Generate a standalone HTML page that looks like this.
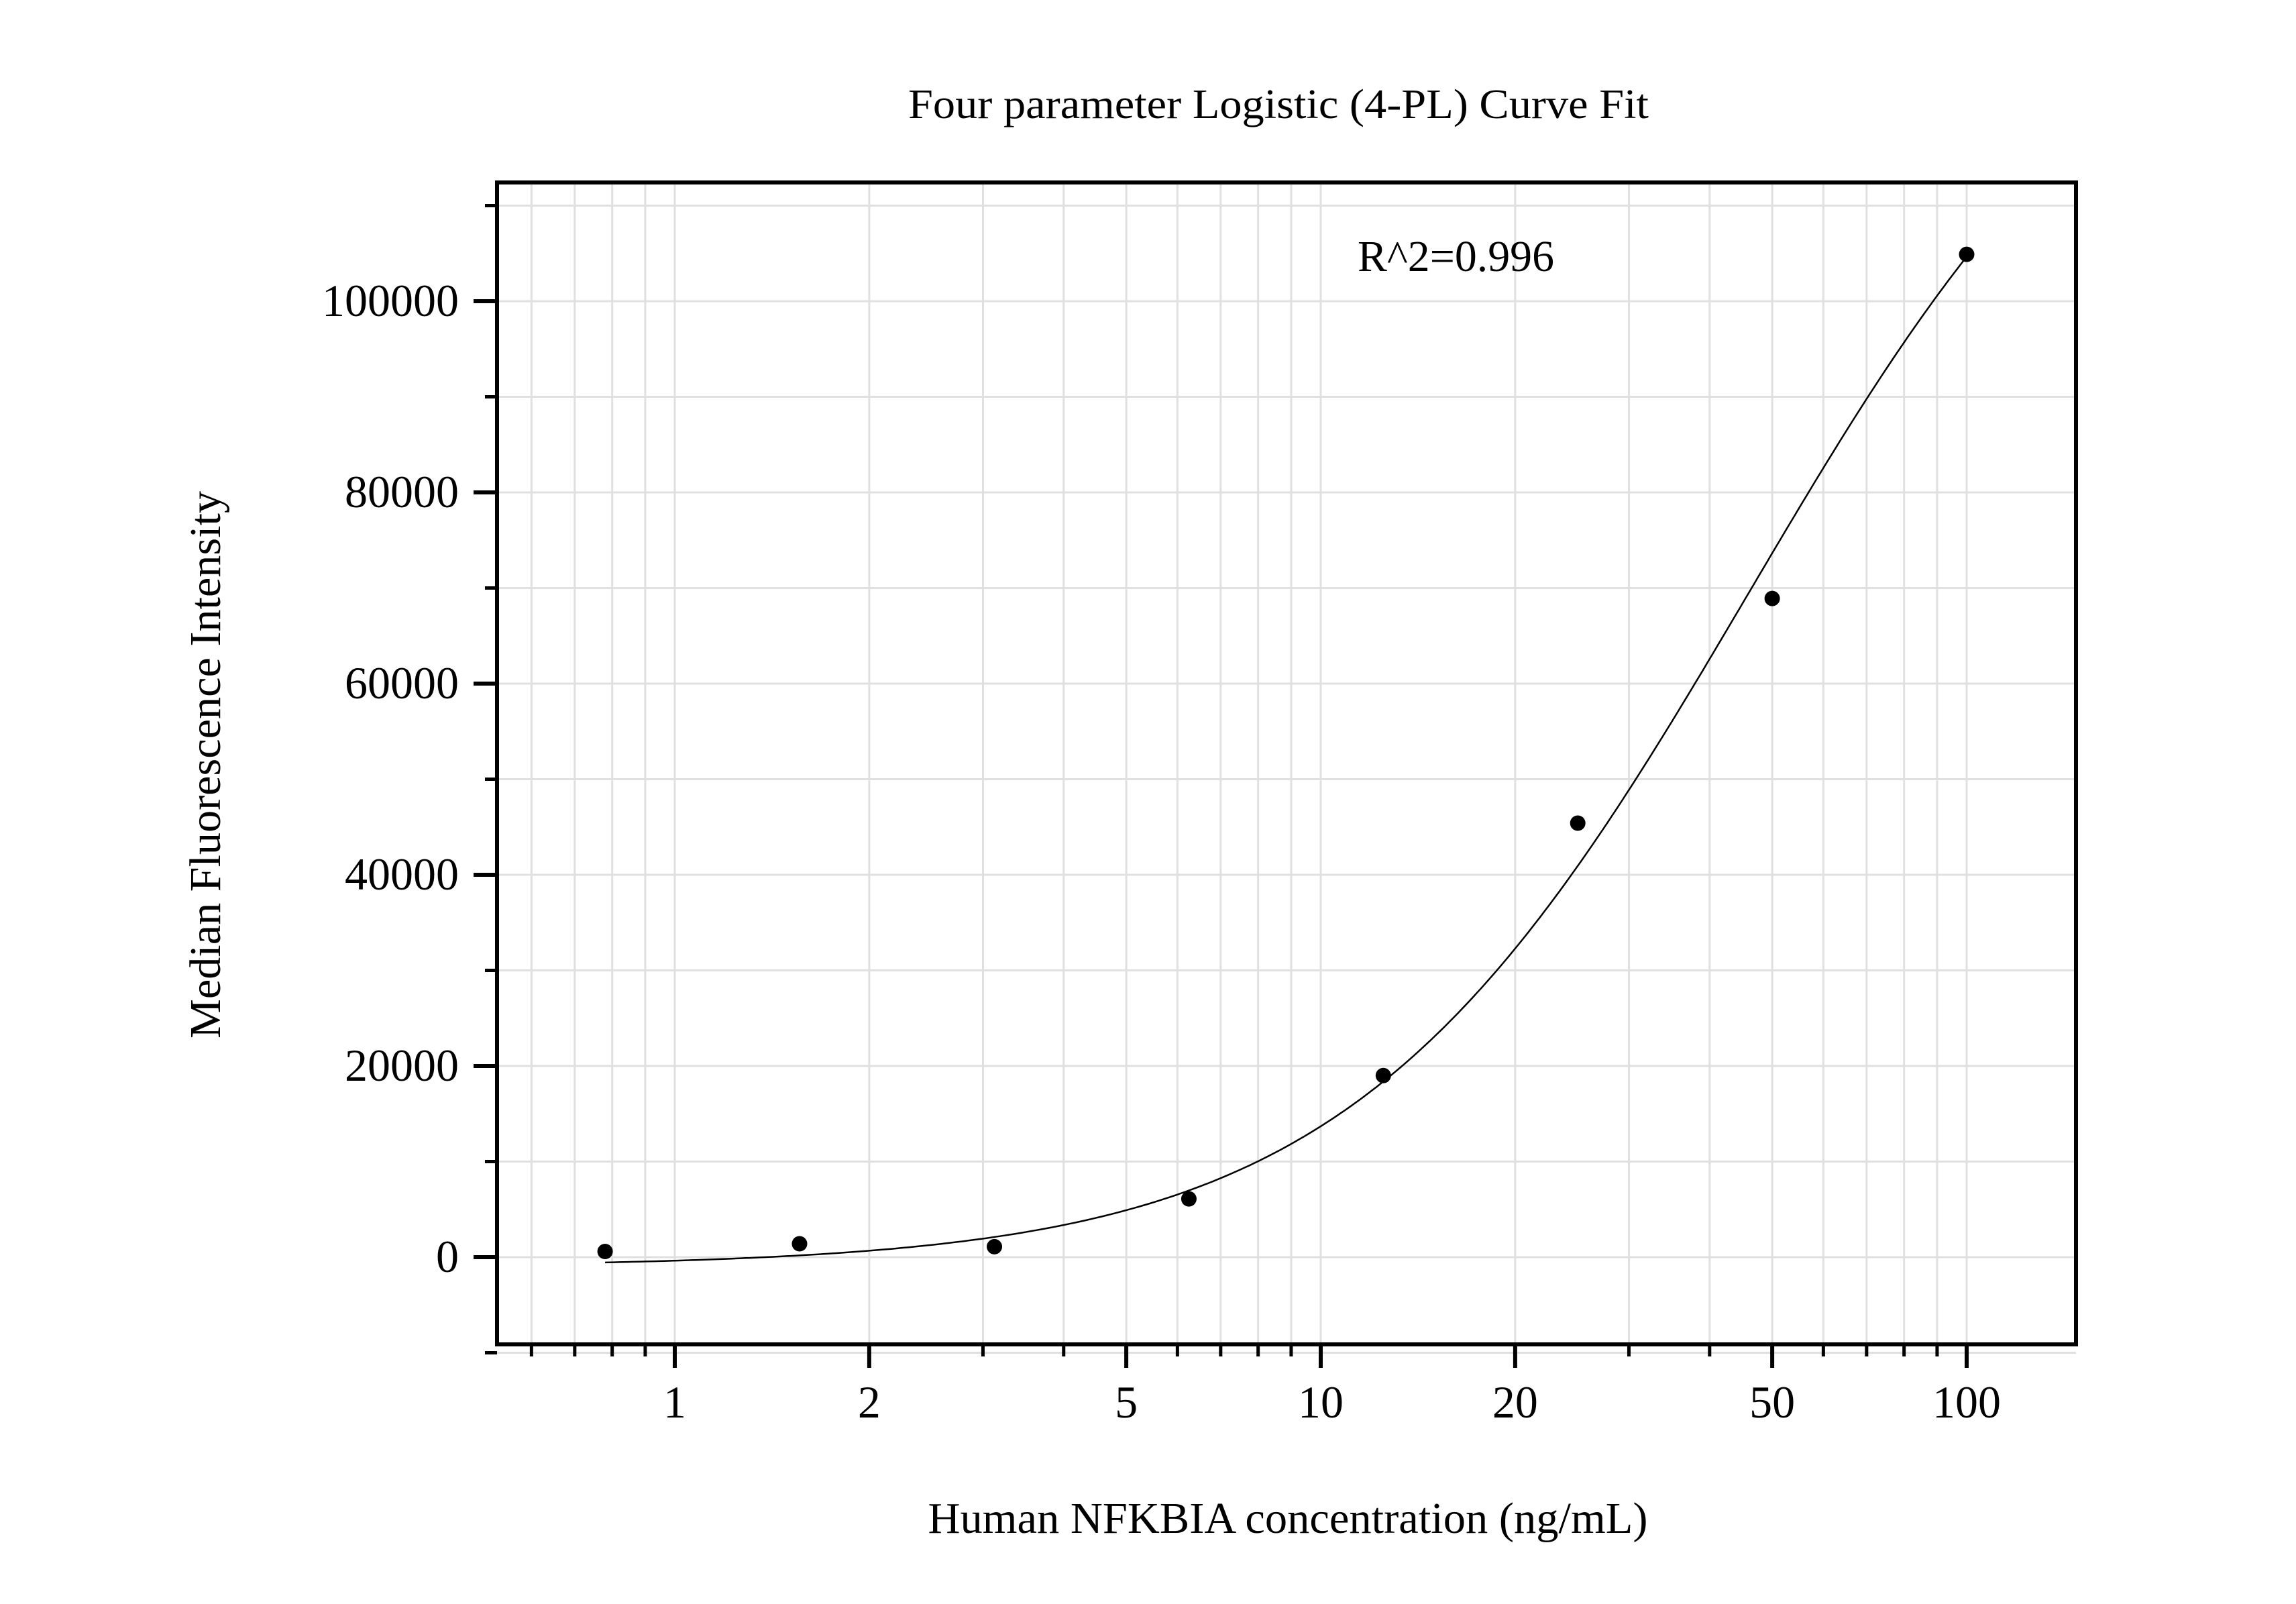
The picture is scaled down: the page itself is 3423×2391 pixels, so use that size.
<!DOCTYPE html>
<html><head><meta charset="utf-8"><style>
html,body{margin:0;padding:0;background:#fff;}
svg{display:block;font-family:"Liberation Serif","Times New Roman",serif;}
</style></head><body>
<svg id="chart" width="3423" height="2391" viewBox="0 0 3423 2391" xmlns="http://www.w3.org/2000/svg">
<rect x="0" y="0" width="3423" height="2391" fill="#fff"/>
<g id="grid"></g>
<g id="ticks"></g>
<g id="curve"></g>
<g id="points"></g>
<rect x="741" y="272" width="2354" height="1732" fill="none" stroke="#000" stroke-width="6"/>
<text x="1906" y="176" font-size="62" text-anchor="middle" textLength="1104" lengthAdjust="spacingAndGlyphs">Four parameter Logistic (4-PL) Curve Fit</text>
<text x="2024" y="404" font-size="66" textLength="293" lengthAdjust="spacingAndGlyphs">R^2=0.996</text>
<text x="1920" y="2285" font-size="66" text-anchor="middle" textLength="1073" lengthAdjust="spacingAndGlyphs">Human NFKBIA concentration (ng/mL)</text>
<text x="0" y="0" font-size="66" text-anchor="middle" transform="translate(328,1140) rotate(-90)" textLength="816" lengthAdjust="spacingAndGlyphs">Median Fluorescence Intensity</text>
</svg>
<script>
const concentrations = [0.78, 1.56, 3.125, 6.25, 12.5, 25, 50, 100];
const intensities = [600, 1400, 1100, 6100, 19000, 45400, 68900, 104900];
const fitParams = [-1000, 140000, 46, 1.41]; // A (bottom), D (top), C, B
const xMajorTicks = [1, 2, 5, 10, 20, 50, 100];
const xMajorLabels = ["1", "2", "5", "10", "20", "50", "100"];
const xMinorTicks = [0.6, 0.7, 0.8, 0.9, 3, 4, 6, 7, 8, 9, 30, 40, 60, 70, 80, 90];
const yMajorTicks = [0, 20000, 40000, 60000, 80000, 100000];
const yMajorLabels = ["0", "20000", "40000", "60000", "80000", "100000"];
const yMinorTicks = [-10000, 10000, 30000, 50000, 70000, 90000, 110000];

const NS = "http://www.w3.org/2000/svg";
const L = 741, R = 3095, T = 272, B = 2004;
const X1 = 1006, DEC = 963;
const Y0 = 1874, YPER = 0.01425;
function sx(v){ return X1 + Math.log10(v) * DEC; }
function sy(v){ return Y0 - v * YPER; }
function mk(tag, attrs, parent){
  const e = document.createElementNS(NS, tag);
  for (const k in attrs) e.setAttribute(k, attrs[k]);
  parent.appendChild(e);
  return e;
}
const grid = document.getElementById('grid');
const ticks = document.getElementById('ticks');

xMajorTicks.concat(xMinorTicks).forEach(v => {
  const x = sx(v);
  const g = mk('line', {x1:x, x2:x, y1:T, y2:B, stroke:'#e0e0e0', 'stroke-width':3}, grid);
  
  
});
yMajorTicks.concat(yMinorTicks).forEach(v => {
  const y = sy(v);
  const g = mk('line', {x1:L, x2:R, y1:y, y2:y, stroke:'#e0e0e0', 'stroke-width':3}, grid);
  
  
});
xMajorTicks.forEach((v, i) => {
  const x = sx(v);
  const t = mk('line', {x1:x, x2:x, y1:B, y2:B+35, stroke:'#000', 'stroke-width':6}, ticks);
  
  
  const lb = mk('text', {x:x, y:2113, 'font-size':68, 'text-anchor':'middle'}, ticks);
  lb.textContent = xMajorLabels[i];
  
  
});
xMinorTicks.forEach(v => {
  const x = sx(v);
  const t = mk('line', {x1:x, x2:x, y1:B, y2:B+18, stroke:'#000', 'stroke-width':5}, ticks);
  
  
});
yMajorTicks.forEach((v, i) => {
  const y = sy(v);
  const t = mk('line', {x1:L-35, x2:L, y1:y, y2:y, stroke:'#000', 'stroke-width':6}, ticks);
  
  
  const lb = mk('text', {x:684, y:y+22, 'font-size':68, 'text-anchor':'end'}, ticks);
  lb.textContent = yMajorLabels[i];
  
  
});
yMinorTicks.forEach(v => {
  const y = sy(v);
  const t = mk('line', {x1:L-18, x2:L, y1:y, y2:y, stroke:'#000', 'stroke-width':5}, ticks);
  
  
});

const A = fitParams[0], D = fitParams[1], C = fitParams[2], Bh = fitParams[3];
function fit(x){ return D + (A - D) / (1 + Math.pow(x / C, Bh)); }
const xs0 = concentrations[0], xs1 = concentrations[concentrations.length - 1];
let d = '';
for (let i = 0; i <= 300; i++) {
  const lx = Math.log10(xs0) + (Math.log10(xs1) - Math.log10(xs0)) * i / 300;
  const x = Math.pow(10, lx);
  d += (i ? 'L' : 'M') + sx(x).toFixed(1) + ',' + sy(fit(x)).toFixed(1);
}
const curve = mk('path', {d:d, fill:'none', stroke:'#000', 'stroke-width':2.5}, document.getElementById('curve'));



const pts = document.getElementById('points');
concentrations.forEach((c, i) => {
  const p = mk('circle', {cx:sx(c), cy:sy(intensities[i]), r:11.5, fill:'#000'}, pts);
  
  
});
</script>
</body></html>
